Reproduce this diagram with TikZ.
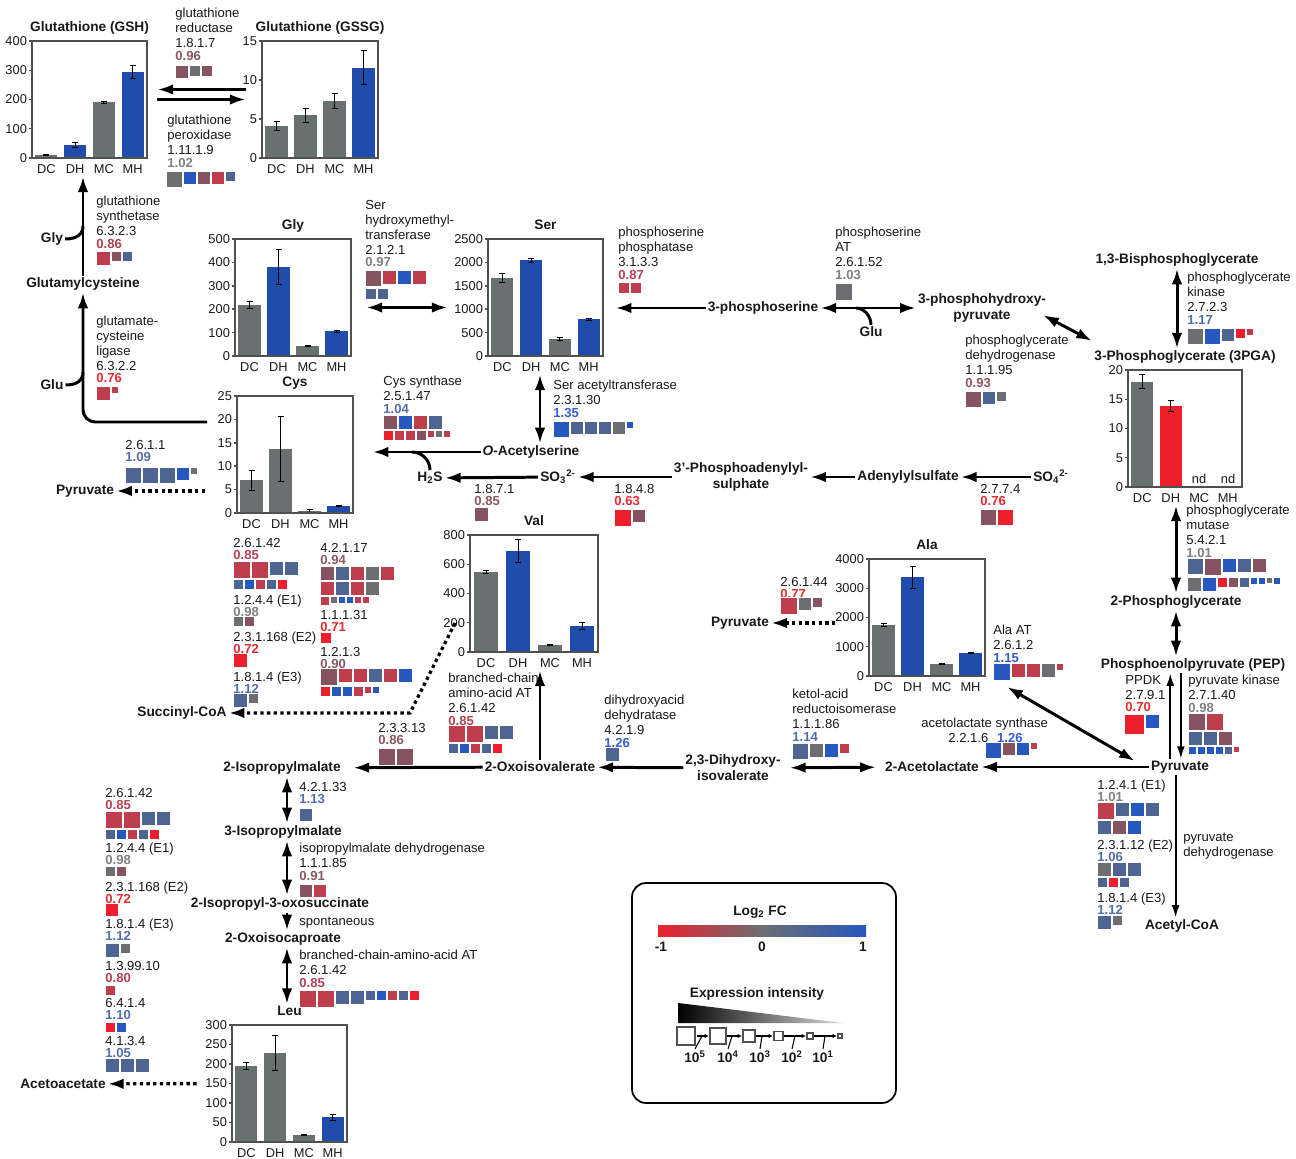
\documentclass[tikz,border=0pt]{standalone}
\usepackage{fontspec}
\setmainfont{Liberation Sans}
\usepackage{xcolor}
\usetikzlibrary{arrows.meta}
\usetikzlibrary{calc, fit, math}
\usetikzlibrary{positioning}

\definecolor{ink}{RGB}{25,25,25}
\definecolor{framegray}{RGB}{80,80,80}
\definecolor{bgray}{RGB}{108,110,114}
\definecolor{bslate}{RGB}{78,100,145}
\definecolor{bblue}{RGB}{38,88,190}
\definecolor{bmauve}{RGB}{134,84,96}
\definecolor{brose}{RGB}{190,62,78}
\definecolor{bred}{RGB}{236,32,45}
\definecolor{vgray}{RGB}{128,128,132}
\definecolor{vslate}{RGB}{82,110,172}
\definecolor{vblue}{RGB}{55,95,200}
\definecolor{vmauve}{RGB}{140,88,98}
\definecolor{vrose}{RGB}{180,66,82}
\definecolor{vred}{RGB}{232,44,52}
\definecolor{bargray}{RGB}{104,112,112}
\definecolor{barblue}{RGB}{32,76,172}
\definecolor{barred}{RGB}{236,30,40}

\tikzset{
  met/.style={font=\fontsize{7.8}{9.2}\selectfont\bfseries, inner sep=1pt, text=ink},
  enz/.style={font=\fontsize{7.45}{8.5}\selectfont, anchor=north west, align=left, inner sep=0pt, text=ink},
  lab/.style={font=\fontsize{7.3}{8.5}\selectfont, inner sep=1pt, text=ink},
  rx/.style={line width=1.7pt, -{Latex[length=9pt,width=6pt]}},
  rxx/.style={line width=1.7pt, {Latex[length=9pt,width=6pt]}-{Latex[length=9pt,width=6pt]}},
  rt/.style={line width=1.1pt, -{Latex[length=7pt,width=4.5pt]}},
  rd/.style={line width=1.9pt, dash pattern=on 1.9pt off 1.9pt, -{Latex[length=9pt,width=6pt]}},
  side/.style={line width=1.7pt},
  errbar/.style={line width=0.5pt, black},
  frame/.style={draw=framegray, line width=0.9pt},
}

% coloured fold change value
\newcommand\fcv[2]{\textcolor{#1}{\bfseries #2}}

% row of expression squares, top left corner, size/colour list
\newcommand\fcrow[2]{%
  \begin{scope}[shift={(#1)}]
    \gdef\fcx{0}
    \foreach \fs/\fc in {#2}{
      \filldraw[fill=\fc, draw=white, line width=0.3pt] (\fcx,0) rectangle ++(\fs,\fs);
      \pgfmathsetmacro\fcnx{\fcx+\fs+1}
      \xdef\fcx{\fcnx}
    }
  \end{scope}}

% bar chart: name, sw corner, width, ymax, step, title, value/err/colour
\newcommand\barchart[7]{%
  \coordinate (#1-sw) at (#2);
  \coordinate (#1-ne) at ($(#1-sw)+(#3,-\chh)$);
  \node[inner sep=0pt, fit=(#1-sw)(#1-ne)] (#1) {};
  \node[met, anchor=base] (#1-t) at ($(#1.north)+(0,-9)$) {#6};
  \coordinate (#1-b) at ($(#1.south)+(0,18)$);
  \begin{scope}[shift={(#1-sw)}]
    \foreach \bv/\be/\bc [count=\k] in {#7}{
      \pgfmathsetmacro\bx{(\k-0.5)*#3/4}
      \pgfmathsetmacro\bw{0.095*#3}
      \pgfmathsetmacro\bh{\bv/#4*\chh}
      \pgfmathsetmacro\eh{\be/#4*\chh}
      \fill[\bc] (\bx-\bw,0) rectangle (\bx+\bw,-\bh);
      \draw[errbar] (\bx,-\bh-\eh) -- (\bx,-\bh+\eh)
        (\bx-3,-\bh-\eh) -- (\bx+3,-\bh-\eh)
        (\bx-3,-\bh+\eh) -- (\bx+3,-\bh+\eh);
    }
    \foreach \cn [count=\k] in {DC,DH,MC,MH}
      \node[lab] (#1-c\k) at ({(\k-0.5)*#3/4},11) {\cn};
    \foreach \tk in {0,#5,...,#4}{
      \pgfmathsetmacro\ty{\tk/#4*\chh}
      \draw[framegray, line width=0.8pt] (0,-\ty) -- (-3,-\ty);
      \node[lab, anchor=east] (#1-y\tk) at (-3,-\ty) {\tk};
    }
  \end{scope}
  \draw[frame] (#1-sw) rectangle (#1-ne);
}

\begin{document}
\begin{tikzpicture}[x=0.02cm, y=-0.02cm]
\tikzmath{
\chh = 117;
}
\useasboundingbox (0,0) rectangle (1296,1159);
\fill[white] (0,0) rectangle (1296,1159);

% charts
\barchart{gsh}{32,158}{115}{400}{100}{Glutathione (GSH)}{10/2/bargray,45/8/barblue,190/5/bargray,293/22/barblue}
\barchart{gssg}{262,158}{116}{15}{5}{Glutathione (GSSG)}{4.1/0.6/bargray,5.5/0.9/bargray,7.3/1/bargray,11.6/2.2/barblue}
\barchart{glyc}{235,356}{116}{500}{100}{Gly}{220/15/bargray,382/75/barblue,43/2/bargray,105/5/barblue}
\barchart{serc}{488,356}{115}{2500}{500}{Ser}{1670/90/bargray,2050/45/barblue,370/30/bargray,790/20/barblue}
\barchart{cysc}{237,513}{116}{25}{5}{Cys}{7/2.2/bargray,13.7/7/bargray,0.5/0.3/bargray,1.5/0.2/barblue}
\barchart{valc}{470,652}{128}{800}{200}{Val}{545/10/bargray,690/80/barblue,50/4/bargray,180/25/barblue}
\barchart{alac}{869,676}{116}{4000}{1000}{Ala}{1750/50/bargray,3380/380/barblue,400/20/bargray,800/20/barblue}
\barchart{pgac}{1128,487}{114}{20}{5}{3-Phosphoglycerate (3PGA)}{18/1.2/bargray,13.9/0.9/barred}
\barchart{leuc}{232,1142}{115}{300}{50}{Leu}{195/10/bargray,228/44/bargray,18/2/bargray,63/7/barblue}
\node[lab] (nd1) at ($(pgac-sw)+(71,-8)$) {nd};
\node[lab] (nd2) at ($(pgac-sw)+(100,-8)$) {nd};

% metabolites
\node[met] (glucys) at (83,284) {Glutamylcysteine};
\node[met] (gly) at (52,239) {Gly};
\node[met] (glua) at (52,385) {Glu};
\node[met] (pyrc) at (85,491) {Pyruvate};
\node[met] (succoa) at (182,713) {Succinyl-CoA};
\node[met] (pser) at (763,308) {3-phosphoserine};
\node[met, align=center] (php) at (982,308) {3-phosphohydroxy-\\pyruvate};
\node[met] (glus) at (871,332) {Glu};
\node[met] (bpg) at (1177,260) {1,3-Bisphosphoglycerate};
\node[met] (oas) at (531,452) {{\itshape O}-Acetylserine};
\node[met] (h2s) at (430,478) {H\textsubscript{2}S};
\node[met] (so3) at (558,477) {SO\textsubscript{3}\textsuperscript{2-}};
\node[met, align=center] (paps) at (741,477) {3'-Phosphoadenylyl-\\sulphate};
\node[met] (aps) at (908,477) {Adenylylsulfate};
\node[met] (so4) at (1051,477) {SO\textsubscript{4}\textsuperscript{2-}};
\node[met] (pyra) at (740,623) {Pyruvate};
\node[met] (pg2) at (1176,602) {2-Phosphoglycerate};
\node[met] (pep) at (1193,665) {Phosphoenolpyruvate (PEP)};
\node[met] (pyr) at (1180,767) {Pyruvate};
\node[met] (acoa) at (1182,926) {Acetyl-CoA};
\node[met] (acl) at (932,767) {2-Acetolactate};
\node[met, align=center] (dhiv) at (733,768) {2,3-Dihydroxy-\\isovalerate};
\node[met] (oiv) at (540,767) {2-Oxoisovalerate};
\node[met] (ipm2) at (282,768) {2-Isopropylmalate};
\node[met] (ipm3) at (283,832) {3-Isopropylmalate};
\node[met] (ipos) at (280,904) {2-Isopropyl-3-oxosuccinate};
\node[met] (oic) at (283,939) {2-Oxoisocaproate};
\node[met] (acac) at (63,1084) {Acetoacetate};

% enzymes
\node[enz] (gr) at (175,8) {glutathione\\reductase\\1.8.1.7\\[-1.5pt]\fcv{vmauve}{0.96}};
\fcrow{175,65}{13/bmauve,11/bgray,11/bmauve}
\node[enz] (gpx) at (167,115) {glutathione\\peroxidase\\1.11.1.9\\[-1.5pt]\fcv{vgray}{1.02}};
\fcrow{166,171}{16/bgray,13/bblue,13/bmauve,13/brose,10/bslate}
\node[enz] (gss) at (96,196) {glutathione\\synthetase\\6.3.2.3\\[-1.5pt]\fcv{vrose}{0.86}};
\fcrow{96,251}{14/brose,10/bmauve,10/bslate}
\node[enz] (gcl) at (96,316) {glutamate-\\cysteine\\ligase\\6.3.2.2\\[-1.5pt]\fcv{vred}{0.76}};
\fcrow{96,386}{14/brose,7/brose}
\node[enz] (got) at (125,440) {2.6.1.1\\[-1.5pt]\fcv{vslate}{1.09}};
\fcrow{125,467}{16/bslate,16/bslate,16/bslate,13/bblue,7/bgray}
\node[enz] (shmt) at (365,200) {Ser\\hydroxymethyl-\\transferase\\2.1.2.1\\[-1.5pt]\fcv{vgray}{0.97}};
\fcrow{365,270}{16/bmauve,14/brose,14/bblue,14/brose}
\fcrow{365,288}{11/bslate,11/bslate}
\node[enz] (psp) at (618,227) {phosphoserine\\phosphatase\\3.1.3.3\\[-1.5pt]\fcv{vrose}{0.87}};
\fcrow{618,282}{11/brose,11/brose}
\node[enz] (psat) at (835,227) {phosphoserine\\AT\\2.6.1.52\\[-1.5pt]\fcv{vgray}{1.03}};
\fcrow{835,283}{17/bgray}
\node[enz] (pgdh) at (965,335) {phosphoglycerate\\dehydrogenase\\1.1.1.95\\[-1.5pt]\fcv{vmauve}{0.93}};
\fcrow{965,391}{16/bmauve,13/bslate,10/bgray}
\node[enz] (pgk) at (1187,272) {phosphoglycerate\\kinase\\2.7.2.3\\[-1.5pt]\fcv{vslate}{1.17}};
\fcrow{1187,328}{16/bgray,16/bblue,13/bslate,10/bred,7/brose}
\node[enz] (pgam) at (1186,505) {phosphoglycerate\\mutase\\5.4.2.1\\[-1.5pt]\fcv{vgray}{1.01}};
\fcrow{1187,558}{16/bslate,17/bmauve,14/bblue,14/bslate,14/bmauve}
\fcrow{1187,577}{14/bgray,14/bblue,10/bred,10/bmauve,10/bslate,7/bblue,7/bblue,6/bgray,7/bblue}
\node[enz] (ppdk) at (1125,675) {PPDK\\2.7.9.1\\[-1.5pt]\fcv{vred}{0.70}};
\fcrow{1124,714}{20/bred,14/bblue}
\node[enz] (pk) at (1188,675) {pyruvate kinase\\2.7.1.40\\[-1.5pt]\fcv{vgray}{0.98}};
\fcrow{1188,713}{17/bmauve,17/brose}
\fcrow{1188,731}{14/bslate,14/bslate,14/bmauve}
\fcrow{1188,746}{8/bblue,8/bblue,8/bblue,8/bblue,8/bslate,6/brose}
\node[enz] (pdh) at (1183,833) {pyruvate\\dehydrogenase};
\node[enz] (pdh1) at (1097,780) {1.2.4.1 (E1)\\[-1.8pt]\fcv{vgray}{1.01}};
\fcrow{1097,802}{17/brose,14/bslate,14/bblue,14/bslate}
\fcrow{1097,820}{14/bslate,14/bmauve,14/bblue}
\node[enz] (pdh2) at (1097,840) {2.3.1.12 (E2)\\[-1.8pt]\fcv{vslate}{1.06}};
\fcrow{1097,862}{14/bgray,14/bslate,14/bslate}
\fcrow{1097,877}{10/bslate,10/bred,10/bslate}
\node[enz] (pdh3) at (1097,893) {1.8.1.4 (E3)\\[-1.8pt]\fcv{vslate}{1.12}};
\fcrow{1097,915}{14/bslate,10/bgray}
\node[enz] (alaat) at (993,625) {Ala AT\\2.6.1.2\\[-1.5pt]\fcv{vblue}{1.15}};
\fcrow{993,663}{17/bblue,14/brose,14/brose,14/bgray,7/brose}
\node[enz] (als) at (921,718) {acetolactate synthase};
\node[enz] (alsn) at (948,733) {2.2.1.6\hspace{5pt}\fcv{vblue}{1.26}};
\fcrow{985,742}{16/bblue,13/bmauve,13/bblue,7/brose}
\node[enz] (kari) at (792,689) {ketol-acid\\reductoisomerase\\1.1.1.86\\[-1.5pt]\fcv{vslate}{1.14}};
\fcrow{792,743}{16/bslate,14/bgray,14/bblue,10/brose}
\node[enz] (dhad) at (604,695) {dihydroxyacid\\dehydratase\\4.2.1.9\\[-1.5pt]\fcv{vblue}{1.26}};
\fcrow{605,747}{14/bslate}
\node[enz] (bcatv) at (448,673) {branched-chain-\\amino-acid AT\\2.6.1.42\\[-1.5pt]\fcv{vrose}{0.85}};
\fcrow{448,725}{17/brose,17/brose,14/bslate,14/bslate}
\fcrow{448,743}{10/bslate,10/bblue,10/brose,10/bslate,10/bred}
\node[enz] (ipms) at (378,723) {2.3.3.13\\[-1.5pt]\fcv{vmauve}{0.86}};
\fcrow{378,748}{17/bmauve,17/bmauve}
\node[enz] (gpt) at (780,577) {2.6.1.44\\[-1.8pt]\fcv{vred}{0.77}};
\fcrow{780,597}{17/brose,13/bgray,10/bmauve}
\node[enz] (cysk) at (383,376) {Cys synthase\\2.5.1.47\\[-1.5pt]\fcv{vslate}{1.04}};
\fcrow{383,415}{14/bmauve,14/bblue,14/brose,14/bslate}
\fcrow{383,430}{10/bred,10/brose,10/brose,10/bmauve,7/brose,7/bgray,7/brose}
\node[enz] (serat) at (553,380) {Ser acetyltransferase\\2.3.1.30\\[-1.5pt]\fcv{vblue}{1.35}};
\fcrow{553,421}{16/bblue,13/bslate,13/bslate,13/bslate,13/bgray,7/bblue}
\node[enz] (sir) at (474,484) {1.8.7.1\\[-1.5pt]\fcv{vmauve}{0.85}};
\fcrow{474,507}{14/bmauve}
\node[enz] (papr) at (614,484) {1.8.4.8\\[-1.5pt]\fcv{vred}{0.63}};
\fcrow{614,509}{17/bred,13/bmauve}
\node[enz] (ats) at (980,484) {2.7.7.4\\[-1.5pt]\fcv{vred}{0.76}};
\fcrow{980,509}{16/bmauve,16/bred}

% valine degradation
\node[enz] (va1) at (233,538) {2.6.1.42\\[-1.8pt]\fcv{vrose}{0.85}};
\fcrow{233,561}{17/brose,17/brose,14/bslate,14/bslate}
\fcrow{233,579}{10/bslate,10/bblue,10/brose,10/bslate,10/bred}
\node[enz] (va2) at (233,595) {1.2.4.4 (E1)\\[-1.8pt]\fcv{vgray}{0.98}};
\fcrow{233,616}{10/bgray,10/bmauve}
\node[enz] (va3) at (233,632) {2.3.1.168 (E2)\\[-1.8pt]\fcv{vred}{0.72}};
\fcrow{233,653}{14/bred}
\node[enz] (va4) at (233,672) {1.8.1.4 (E3)\\[-1.8pt]\fcv{vslate}{1.12}};
\fcrow{233,693}{14/bslate,10/bgray}
\node[enz] (vb1) at (320,543) {4.2.1.17\\[-1.8pt]\fcv{vmauve}{0.94}};
\fcrow{320,566}{14/bmauve,14/bslate,14/brose,14/bgray,14/brose}
\fcrow{320,581}{14/brose,14/bslate,14/brose,14/bgray}
\fcrow{320,596}{9/brose,7/bgray,7/bblue,7/bblue,7/brose,7/brose}
\node[enz] (vb2) at (320,610) {1.1.1.31\\[-1.8pt]\fcv{vred}{0.71}};
\fcrow{320,632}{11/bred}
\node[enz] (vb3) at (320,647) {1.2.1.3\\[-1.8pt]\fcv{vmauve}{0.90}};
\fcrow{320,668}{17/bmauve,14/brose,14/brose,14/bslate,14/brose,14/bblue}
\fcrow{320,686}{10/bred,10/bblue,10/bblue,10/brose,7/brose,7/bblue}

% leucine
\node[enz] (ipmi) at (299,782) {4.2.1.33\\[-1.8pt]\fcv{vslate}{1.13}};
\fcrow{299,808}{13/bslate}
\node[enz] (ipmdh) at (299,843) {isopropylmalate dehydrogenase\\1.1.1.85\\[-1.5pt]\fcv{vmauve}{0.91}};
\fcrow{299,884}{13/bmauve,13/brose}
\node[enz] (spon) at (299,917) {spontaneous};
\node[enz] (bcatl) at (299,950) {branched-chain-amino-acid AT\\2.6.1.42\\[-1.5pt]\fcv{vrose}{0.85}};
\fcrow{299,990}{17/brose,17/brose,14/bslate,14/bslate,10/bslate,10/bblue,10/brose,10/bslate,10/bred}
\node[enz] (la1) at (105,788) {2.6.1.42\\[-1.8pt]\fcv{vrose}{0.85}};
\fcrow{105,811}{17/brose,17/brose,14/bslate,14/bslate}
\fcrow{105,829}{10/bslate,10/bblue,10/brose,10/bslate,10/bred}
\node[enz] (la2) at (105,843) {1.2.4.4 (E1)\\[-1.8pt]\fcv{vgray}{0.98}};
\fcrow{105,866}{10/bgray,10/bmauve}
\node[enz] (la3) at (105,882) {2.3.1.168 (E2)\\[-1.8pt]\fcv{vred}{0.72}};
\fcrow{105,903}{13/bred}
\node[enz] (la4) at (105,919) {1.8.1.4 (E3)\\[-1.8pt]\fcv{vslate}{1.12}};
\fcrow{105,943}{14/bslate,10/bgray}
\node[enz] (la5) at (105,961) {1.3.99.10\\[-1.8pt]\fcv{vrose}{0.80}};
\fcrow{105,985}{10/brose}
\node[enz] (la6) at (105,998) {6.4.1.4\\[-1.8pt]\fcv{vslate}{1.10}};
\fcrow{105,1022}{10/bred,10/bblue}
\node[enz] (la7) at (105,1036) {4.1.3.4\\[-1.8pt]\fcv{vslate}{1.05}};
\fcrow{105,1058}{14/bslate,14/bslate,14/bslate}

% connector ends
\coordinate (cysout) at (207,422);
\coordinate (glyj) at (83,226);
\coordinate (gluj) at (83,372);
\coordinate (glusj) at (856,308);
\coordinate (h2sj) at (412,452);
\coordinate (phpa) at (1043,315);
\coordinate (pgaa) at (1092,341);
\coordinate (alaatj) at (1007,687);
\coordinate (valo) at (455,623);
\coordinate (valo2) at (410,713);
\coordinate (sx) at (540,0);
\coordinate (lx) at (287,0);

% glutathione
\draw[rx] (glucys) -- (glucys |- gsh-b);
\draw[rx, rounded corners=7pt] (cysout) -| (glucys);
\draw[side] (gly.east) .. controls +(12,0) and +(0,8) .. (glyj);
\draw[side] (glua.east) .. controls +(12,0) and +(0,8) .. (gluj);
\draw[rx] ($(gssg.west)+(-16,-10)$) -- ($(gsh.east)+(10,-10)$);
\draw[rx] ($(gsh.east)+(10,0)$) -- ($(gssg.west)+(-16,0)$);
\draw[rd, shorten <=18pt] (cysc.west |- pyrc) -- (pyrc);

% serine
\draw[rxx] ($(glyc.east)+(15,10)$) -- ($(serc.west)+(-40,10)$);
\draw[rx, shorten >=7pt] (pser) -- (pser -| serc.east);
\draw[rxx] (pser) -- (php);
\draw[side] (glus.north) .. controls +(0,-9) and +(8,0) .. (glusj);
\draw[rxx] (phpa) -- (pgaa);
\draw[rxx] (oas.north -| sx) -- (serc-b -| sx);
\draw[rx, shorten >=11pt] (oas) -- (oas -| cysc.east);
\draw[side] (h2s.north) .. controls +(0,-10) and +(10,0) .. (h2sj);

% sulfur
\draw[rx] (so3) -- (h2s);
\draw[rx] (paps) -- (so3);
\draw[rx] (aps) -- (paps);
\draw[rx] (so4) -- (aps);

% glycolysis
\draw[rxx] (bpg.south) -- (bpg.south |- pgac-t.north);
\draw[rxx] (pg2 |- pgac-b) -- (pg2.north);
\draw[rxx] (pg2.south) -- (pg2.south |- pep.north);
\draw[rt] ([xshift=-5.5pt]pyr.north) -- ([xshift=-5.5pt]pyr.north |- pep.south);
\draw[rt] ([xshift=0.5pt]pyr.north |- pep.south) -- ([xshift=0.5pt]pyr.north);
\draw[rt] ([xshift=-2.5pt]pyr.south) -- ([xshift=-2.5pt]pyr.south |- acoa.north);
\draw[rx] (pyr) -- (acl);
\draw[rxx] ($(pyr.west)+(-14,-6)$) -- (alaatj);
\draw[rd, shorten <=19pt] (pyra -| alac.west) -- (pyra);

% branched chain
\draw[rxx, shorten <=4pt, shorten >=4pt] (dhiv) -- (acl);
\draw[rx] (dhiv) -- (oiv);
\draw[rx] (oiv.north) -- (oiv.north |- valc-b);
\draw[rx, shorten >=6pt] (oiv) -- (ipm2);
\draw[rd] (valo) -- (valo2) -- (succoa);
\draw[rxx] (ipm2.south -| lx) -- (ipm3.north -| lx);
\draw[rxx] (ipm3.south -| lx) -- (ipos.north -| lx);
\draw[rx] (ipos.south -| lx) -- (oic.north -| lx);
\draw[rxx] (oic.south -| lx) -- (leuc-t.north -| lx);
\draw[rd, shorten <=20pt] (leuc.west) -- (acac);

% legend
\draw[line width=1pt, rounded corners=8pt] (632,883) rectangle (896,1103);
\node[met] (lfc) at (760,912) {Log\textsubscript{2} FC};
\shade[left color=bred, right color=bblue, middle color=bgray] (658,925) rectangle (866,936);
\node[met] (lm1) at (661,947) {-1};
\node[met] (l0) at (762,947) {0};
\node[met] (l1) at (863,947) {1};
\node[met] (lei) at (757,994) {Expression intensity};
\shade[left color=black, right color=white!85!black] (678,1003) -- (678,1023) -- (843,1023) -- cycle;
\foreach \sx/\sz in {686/18,718/16,749/12,778.5/9,810/6,840/4}
  \draw[framegray, line width=0.8pt] (\sx-\sz/2,1036-\sz/2) rectangle ++(\sz,\sz);
\foreach \ax/\axx/\tx/\lx/\ex in {697/709/702/695/5,727/742/732/728/4,756/773/762/760/3,784/806/795/792/2,814/837/825/823/1}{
  \draw[line width=0.6pt, -{Latex[length=2.5pt,width=2.5pt]}] (\ax,1036) -- (\axx,1036);
  \draw[line width=0.6pt] (\tx,1036) -- (\lx,1049);
  \node[met] (e\ex) at (\lx,1057) {10\textsuperscript{\ex}};
}
\end{tikzpicture}
\end{document}
